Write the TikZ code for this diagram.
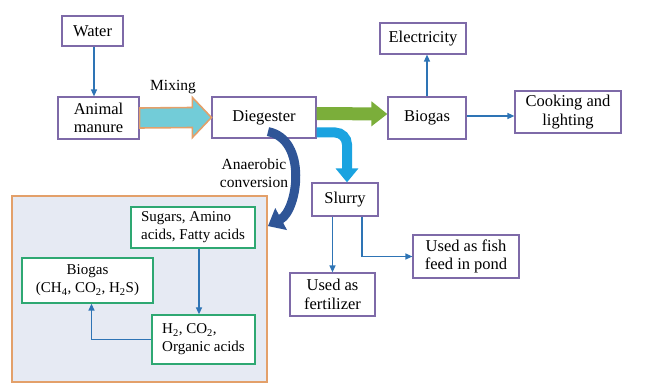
\documentclass[tikz,border=0pt]{standalone}
\usepackage{fontspec}
\setmainfont{Liberation Serif}
\usepackage{tikz}
\usetikzlibrary{arrows.meta, positioning, calc}
\definecolor{boxpurple}{HTML}{7E6AA8}
\definecolor{flowblue}{HTML}{2E74B5}
\definecolor{arcblue}{HTML}{2F5597}
\definecolor{slurryblue}{HTML}{1AA3E0}
\definecolor{gasgreen}{HTML}{7BAE3A}
\definecolor{mixcyan}{HTML}{72CCD8}
\definecolor{mixorange}{HTML}{E3A06A}
\definecolor{procgreen}{HTML}{2EA872}
\definecolor{procfill}{HTML}{E6EAF3}

\begin{document}
\begin{tikzpicture}[x=1pt, y=-1pt,
    plantbox/.style={draw=boxpurple, fill=white, line width=1.2pt, align=center, inner sep=2pt,
      font=\fontsize{16.5}{18.5}\selectfont},
    stagebox/.style={draw=procgreen, fill=white, line width=1.3pt, inner sep=3pt,
      font=\fontsize{15}{18}\selectfont},
    flow/.style={-{Triangle[length=7pt, width=6pt]}, line width=1.3pt, flowblue}]
    \useasboundingbox (0,0) rectangle (662,387);

    % Inputs
    \node[plantbox, minimum width=61pt, minimum height=30pt] (water) at (92.5,31) {Water};
    \node[plantbox, minimum width=81pt, minimum height=42pt] (manure) at (98.5,118) {Animal\\manure};

    % Plant
    \node[plantbox, minimum width=104pt, minimum height=41pt] (dig) at (264,117.5) {Diegester};
    \node[plantbox, minimum width=78pt, minimum height=42pt] (biogas) at (427,118) {Biogas};
    \node[plantbox, minimum width=86pt, minimum height=31pt] (elec) at (423,38.5) {Electricity};
    \node[plantbox, minimum width=106pt, minimum height=42pt] (cook) at (568,112) {Cooking and\\lighting};
    \node[plantbox, minimum width=66pt, minimum height=33pt] (slurry) at (345,199.5) {Slurry};
    \node[plantbox, minimum width=85pt, minimum height=43pt] (fert) at (332.5,294.5) {Used as\\fertilizer};
    \node[plantbox, minimum width=106pt, minimum height=43pt] (fish) at (466,256.5) {Used as fish\\feed in pond};

    % Anaerobic stages
    \node[draw=mixorange, fill=procfill, line width=1.8pt, minimum width=255pt, minimum height=186pt] (proc) at (139.5,289) {};
    \node[stagebox, align=left, minimum width=124pt, minimum height=41pt] (sugar) at (193,227.5) {Sugars, Amino\\acids, Fatty acids};
    \node[stagebox, align=center, minimum width=131pt, minimum height=45pt] (bgas) at (87.5,280.5) {Biogas\\(CH\textsubscript{4}, CO\textsubscript{2}, H\textsubscript{2}S)};
    \node[stagebox, align=left, minimum width=103pt, minimum height=49pt] (h2) at (203.5,339.5) {H\textsubscript{2}, CO\textsubscript{2},\\Organic acids};

    % Thick arrows
    \draw[fill=mixcyan, draw=mixorange, line width=1.6pt]
      ([yshift=10pt]manure.east) -- ([xshift=-19pt,yshift=10pt]dig.west) -- ([xshift=-19pt,yshift=20pt]dig.west)
      -- (dig.west) -- ([xshift=-19pt,yshift=-20pt]dig.west) -- ([xshift=-19pt,yshift=-10pt]dig.west)
      -- ([yshift=-10pt]manure.east) -- cycle;
    \node[font=\fontsize{15.5}{18}\selectfont] (mixlbl) at (173,87) {Mixing};
    \draw[-{Triangle[length=16pt, width=24pt]}, line width=13pt, gasgreen] ([yshift=4pt]dig.east) -- ([yshift=4pt]biogas.west);
    \draw[-{Triangle[length=14pt, width=22pt]}, line width=10pt, slurryblue, rounded corners=12pt]
      ([yshift=-15pt]dig.east) -| ([xshift=2pt]slurry.north);
    \draw[-{Triangle[length=15pt, width=24pt]}, line width=9pt, arcblue]
      ([xshift=4pt,yshift=7pt]dig.south) .. controls +(40,8) and +(30,-16) .. ([yshift=-31pt]proc.north east);
    \node[align=center, font=\fontsize{15.5}{18.5}\selectfont] (anlbl) at (254,173) {Anaerobic\\conversion};

    % Links
    \draw[flow] (water.south -| 94,0) -- (manure.north -| 94,0);
    \draw[flow] (biogas.north) -- (biogas.north |- elec.south);
    \draw[flow] ([yshift=2pt]biogas.east) -- ([yshift=2pt]biogas.east -| cook.west);
    \draw[flow] (fert.north |- slurry.south) -- (fert.north);
    \draw[flow] ([xshift=17pt]slurry.south) |- (fish.west);
    \draw[flow] ([xshift=6pt]sugar.south) -- ([xshift=6pt]sugar.south |- h2.north);
    \draw[flow] (h2.west) -| ([xshift=4pt]bgas.south);
\end{tikzpicture}
\end{document}
